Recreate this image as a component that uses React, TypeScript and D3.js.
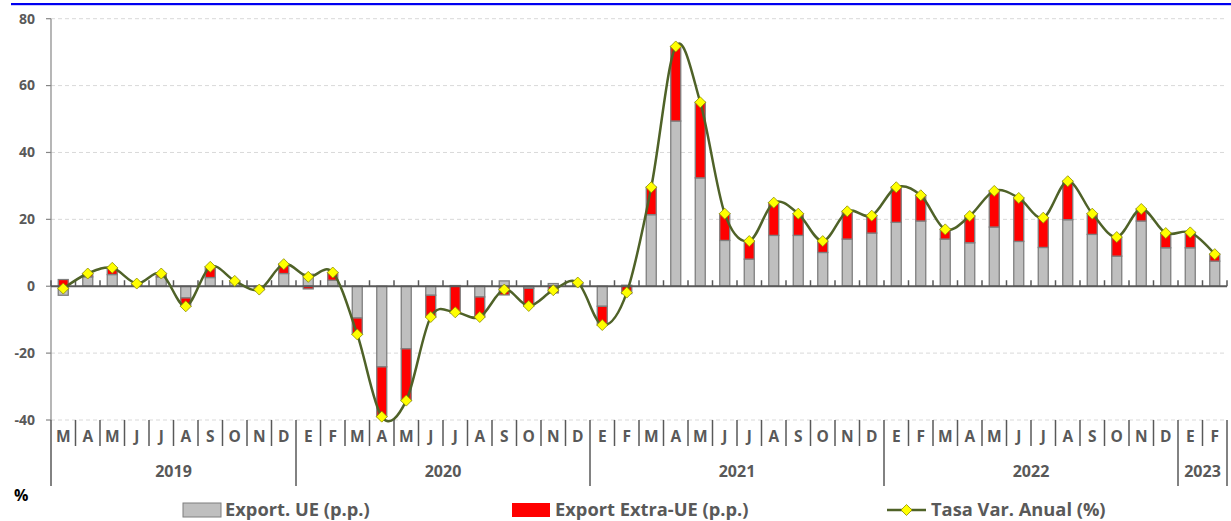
import React from "react";
import * as d3 from "d3";

const months = [
  "M","A","M","J","J","A","S","O","N","D",
  "E","F","M","A","M","J","J","A","S","O","N","D",
  "E","F","M","A","M","J","J","A","S","O","N","D",
  "E","F","M","A","M","J","J","A","S","O","N","D",
  "E","F",
];
const years = ["2019", "2020", "2021", "2022", "2023"];
const yearMonths = [10, 12, 12, 12, 2];

const exportUE = [
  -2.7, 2.8, 3.5, 0.6, 2.8, -3.5, 2.6, 1.3, -0.6, 3.8,
  3.6, 1.8, -9.5, -24.1, -18.7, -2.7, 0.2, -3.2, 1.6, -0.6, 0.8, 0.8,
  -6.0, 0.3, 21.4, 49.4, 32.4, 13.7, 8.1, 15.2, 15.2, 10.1, 14.1, 15.9,
  19.1, 19.5, 14.1, 13.0, 17.7, 13.4, 11.6, 19.9, 15.5, 9.0, 19.5, 11.5,
  11.5, 7.5,
];
const exportExtraUE = [
  2.0, 1.0, 2.0, 0.2, 1.0, -2.5, 3.2, 0.3, -0.4, 2.8,
  -0.8, 2.3, -4.9, -14.9, -15.5, -6.5, -8.0, -6.0, -2.6, -5.3, -2.0, 0.3,
  -5.6, -2.2, 8.2, 22.3, 22.6, 8.0, 5.4, 9.8, 6.5, 3.4, 8.3, 5.2,
  10.5, 7.7, 2.9, 8.0, 10.8, 13.0, 8.9, 11.5, 6.2, 5.7, 3.6, 4.4,
  4.6, 2.1,
];
const tasaVarAnual = [
  -0.7, 3.8, 5.5, 0.8, 3.8, -6.0, 5.8, 1.6, -1.0, 6.6,
  2.8, 4.1, -14.4, -39.0, -34.2, -9.2, -7.8, -9.2, -1.0, -5.9, -1.2, 1.1,
  -11.6, -1.9, 29.6, 71.7, 55.0, 21.7, 13.5, 25.0, 21.7, 13.5, 22.4, 21.1,
  29.6, 27.2, 17.0, 21.0, 28.5, 26.4, 20.5, 31.4, 21.7, 14.7, 23.1, 15.9,
  16.1, 9.6,
];
const yTicks = [-40, -20, 0, 20, 40, 60, 80];

const seriesNames = ["Export. UE (p.p.)", "Export Extra-UE (p.p.)", "Tasa Var. Anual (%)"];

const W = 1231;
const H = 521;
const X0 = 51;
const X1 = 1227;
const LABEL_FONT = "'Open Sans', Lato, sans-serif";
const AXIS_COLOR = "#595959";
const LINE_COLOR = "#4F6228";

export default function App() {
  const idx = months.map((_, i) => i);
  const step = (X1 - X0) / months.length;
  const xc = d3.scaleLinear().domain([-0.5, months.length - 0.5]).range([X0, X1]);
  const y = d3.scaleLinear().domain([-40, 80]).range([420, 18.7]);

  const rows = idx.map((i) => ({ i, ue: exportUE[i], ex: exportExtraUE[i] }));
  const stack = d3.stack<any>().keys(["ue", "ex"]).offset(d3.stackOffsetDiverging)(rows);
  const colors = ["#BFBFBF", "#FF0000"];

  const line = d3
    .line<number>()
    .x((_, i) => xc(i))
    .y((d) => y(d))
    .curve(d3.curveCardinal.tension(0));

  const bw = 10;
  const diamond = (cx: number, cy: number, r: number) =>
    `M${cx},${cy - r}L${cx + r},${cy}L${cx},${cy + r}L${cx - r},${cy}Z`;

  const yearBounds: number[] = [];
  let acc = 0;
  yearMonths.forEach((n) => {
    yearBounds.push(acc);
    acc += n;
  });
  yearBounds.push(acc);

  return (
    <svg
      width={W}
      height={H}
      style={{ position: "absolute", left: 0, top: 0, background: "#fff" }}
      fontFamily={LABEL_FONT}
    >
      <rect x={0} y={0} width={W} height={H} fill="#fff" />
      <rect x={11} y={3} width={W - 11} height={2.2} fill="#0000F0" />

      {yTicks.filter((t) => t !== 0).map((t) => (
        <line key={t} x1={X0} x2={X1} y1={y(t)} y2={y(t)} stroke="#D9D9D9" strokeWidth={1} strokeDasharray="4,3" />
      ))}

      <line x1={X0} x2={X0} y1={y(80)} y2={y(-40)} stroke="#868686" strokeWidth={1.2} />
      {yTicks.map((t) => (
        <g key={t}>
          <line x1={X0 - 5} x2={X0} y1={y(t)} y2={y(t)} stroke="#868686" strokeWidth={1.2} />
          <text x={35} y={y(t)} dy="0.35em" textAnchor="end" fontSize={14} fontWeight="bold" fill={AXIS_COLOR}>
            {t}
          </text>
        </g>
      ))}

      {stack.map((s, si) => (
        <g key={si}>
          {s.map((d, i) => {
            const top = y(Math.max(d[0], d[1]));
            const bot = y(Math.min(d[0], d[1]));
            return (
              <rect
                key={i}
                x={xc(i) - bw / 2}
                y={top}
                width={bw}
                height={Math.max(0, bot - top)}
                fill={colors[si]}
                stroke="#7F7F7F"
                strokeWidth={1.3}
              />
            );
          })}
        </g>
      ))}

      <line x1={X0} x2={X1} y1={y(0)} y2={y(0)} stroke={AXIS_COLOR} strokeWidth={2} />
      {d3.range(months.length + 1).map((k) => (
        <line key={k} x1={X0 + k * step} x2={X0 + k * step} y1={y(0) - 6} y2={y(0)} stroke={AXIS_COLOR} strokeWidth={1.5} />
      ))}

      <path d={line(tasaVarAnual) || ""} fill="none" stroke={LINE_COLOR} strokeWidth={2.5} />
      {tasaVarAnual.map((v, i) => (
        <path key={i} d={diamond(xc(i), y(v), 5.5)} fill="#FFFF00" stroke="#8C8C00" strokeWidth={0.8} />
      ))}

      {d3.range(months.length + 1).map((k) => {
        const isYear = yearBounds.includes(k);
        return (
          <line
            key={k}
            x1={X0 + k * step}
            x2={X0 + k * step}
            y1={420}
            y2={isYear ? 486 : 446}
            stroke={AXIS_COLOR}
            strokeWidth={1.5}
          />
        );
      })}
      {months.map((m, i) => (
        <text key={i} x={xc(i)} y={437} dy="0.35em" textAnchor="middle" fontSize={15.5} fontWeight="bold" fill={AXIS_COLOR}>
          {m}
        </text>
      ))}
      {years.map((yr, k) => (
        <text
          key={yr}
          x={X0 + ((yearBounds[k] + yearBounds[k + 1]) / 2) * step}
          y={471}
          dy="0.35em"
          textAnchor="middle"
          fontSize={16}
          fontWeight="bold"
          fill={AXIS_COLOR}
        >
          {yr}
        </text>
      ))}

      <text x={14} y={495} dy="0.35em" fontSize={16} fontWeight="bold" fill="#000">%</text>

      <rect x={183} y={503} width={38} height={14} fill="#BFBFBF" stroke="#7F7F7F" strokeWidth={1} />
      <text x={225} y={510} dy="0.35em" fontSize={18.3} fontWeight="bold" fill={AXIS_COLOR}>{seriesNames[0]}</text>
      <rect x={512} y={503} width={38} height={14} fill="#FF0000" />
      <text x={555} y={510} dy="0.35em" fontSize={18.3} fontWeight="bold" fill={AXIS_COLOR}>{seriesNames[1]}</text>
      <line x1={887} x2={926} y1={510} y2={510} stroke={LINE_COLOR} strokeWidth={2.5} />
      <path d={diamond(906.5, 510, 5.5)} fill="#FFFF00" stroke="#8C8C00" strokeWidth={0.8} />
      <text x={931} y={510} dy="0.35em" fontSize={18.3} fontWeight="bold" fill={AXIS_COLOR}>{seriesNames[2]}</text>
    </svg>
  );
}
